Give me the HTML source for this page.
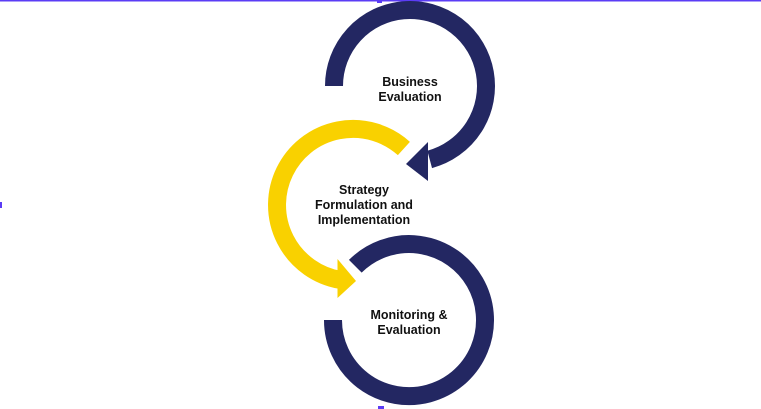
<!DOCTYPE html>
<html><head><meta charset="utf-8"><style>
html,body{margin:0;padding:0;background:#fff;}
svg{display:block;}
text{font-family:"Liberation Sans",sans-serif;font-weight:bold;font-size:12.5px;fill:#111;}
</style></head><body>
<svg width="761" height="409" viewBox="0 0 761 409">
<rect x="0" y="0" width="761" height="1.5" fill="#5b3cf5"/>
<rect x="377" y="0" width="5" height="3" fill="#5b3cf5"/>
<rect x="0" y="202" width="2" height="6" fill="#5b3cf5"/>
<rect x="378" y="406" width="6" height="3" fill="#5b3cf5"/>
<!-- yellow -->
<path d="M 403.9 148.5 A 76 76 0 1 0 339.8 279.8" fill="none" stroke="#f9d100" stroke-width="18"/>
<polygon points="337.5,259 337.5,298 356,281" fill="#f9d100"/>
<!-- top circle -->
<path d="M 334 86 A 76 76 0 1 1 429.7 159.4" fill="none" stroke="#232762" stroke-width="18"/>
<polygon points="428,142 428,181 406,164" fill="#232762"/>
<!-- bottom circle -->
<path d="M 333 320 A 76 76 0 1 0 355.3 266.3" fill="none" stroke="#232762" stroke-width="18"/>
<text x="410" y="86" text-anchor="middle">Business</text>
<text x="410" y="101" text-anchor="middle">Evaluation</text>
<text x="364" y="194" text-anchor="middle">Strategy</text>
<text x="364" y="209" text-anchor="middle">Formulation and</text>
<text x="364" y="224" text-anchor="middle">Implementation</text>
<text x="409" y="319" text-anchor="middle">Monitoring &amp;</text>
<text x="409" y="334" text-anchor="middle">Evaluation</text>
</svg>
</body></html>
